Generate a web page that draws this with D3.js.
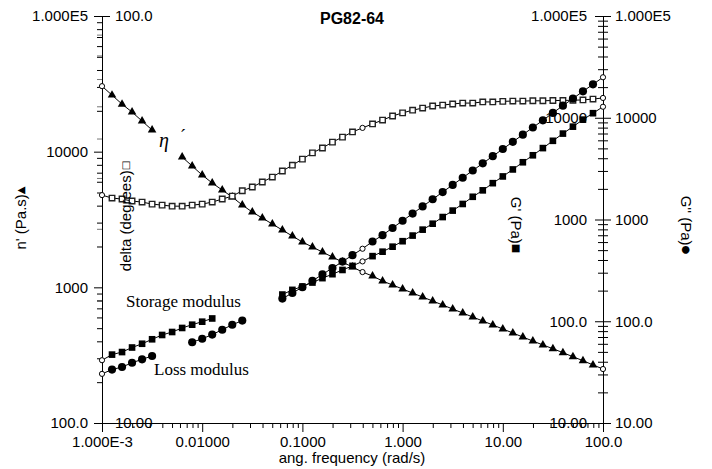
<!DOCTYPE html>
<html><head><meta charset="utf-8">
<script src="https://cdn.jsdelivr.net/npm/d3@7"></script>
<style>body{margin:0;background:#fff}svg{display:block}</style>
</head><body><svg id="c" width="712" height="469"></svg>
<script>
// ---- data ----
const freq = [0.001,0.001259,0.001585,0.001995,0.002512,0.003162,0.003981,0.005012,0.00631,0.007943,
  0.01,0.01259,0.01585,0.01995,0.02512,0.03162,0.03981,0.05012,0.0631,0.07943,
  0.1,0.1259,0.1585,0.1995,0.2512,0.3162,0.3981,0.5012,0.631,0.7943,
  1,1.259,1.585,1.995,2.512,3.162,3.981,5.012,6.31,7.943,
  10,12.59,15.85,19.95,25.12,31.62,39.81,50.12,63.1,79.43,100];
const etaPrime = [30400,26100,22400,19580,16810,14430,null,null,9125,7834,
  6725,5870,5212,4627,4042,3588,3241,2928,2644,2388,
  2157,1982,1820,1672,1536,1411,1296,1211,1113,1040,
  972,908,848,793,741,692,647,604,565,528,
  493,461,430,402,376,353,330,308,288,268,250];
const delta = [36.3,35.7,35.5,35.1,34.9,34.5,34.3,34.1,34.1,34.3,
  34.5,34.9,35.5,36.1,37.2,38.0,39.1,40.2,41.6,43.0,
  44.5,46.1,47.4,49.0,50.4,51.9,53.1,54.3,55.5,56.8,
  57.8,58.7,59.4,60.1,60.4,60.8,61.1,61.1,61.5,61.5,
  61.7,61.8,61.8,61.9,61.9,62.0,62.0,62.1,62.2,62.5,62.9];
const gPrime = [41.4,47.0,49.8,55.2,60.1,66.5,73.3,78.4,85.9,92.5,
  99.0,106.5,null,null,null,null,null,null,183,203.4,
  219.5,240.1,265.3,290.1,319.2,350.0,387.5,436.4,482.5,540.5,
  611.8,695.0,794.8,909.1,1057,1223,1421,1672,1934,2275,
  2650,3104,3652,4277,5032,5934,6987,8175,9580,11083,12830];
const gDouble = [30.4,33.5,35.5,39.1,42.2,45.6,null,null,null,62.2,
  67.3,73.9,82.6,92.3,101.5,null,null,null,166.9,189.7,
  215.7,249.5,288.5,333.7,385.8,446.3,516.1,607.3,702.1,826.0,
  971.6,1143,1344,1581,1860,2188,2574,3028,3562,4191,
  4928,5797,6820,8022,9437,11160,13140,15440,18170,21290,25000];
const specialIdx = [0, 26, 50];

const xTicks = [0.001,0.01,0.1,1,10,100];
const xTickLabels = ["1.000E-3","0.01000","0.1000","1.000","10.00","100.0"];
const etaTicks = [100,1000,10000,100000];
const etaTickLabels = ["100.0","1000","10000","1.000E5"];
const deltaTicks = [10,100];
const deltaTickLabels = ["10.00","100.0"];
const gTicks = [10,100,1000,10000,100000];
const gTickLabels = ["10.00","100.0","1000","10000","1.000E5"];

// ---- drawing ----
const svg = d3.select("#c");
svg.append("rect").attr("width",712).attr("height",469).attr("fill","#fff");
const FONT = "'Liberation Sans', Arial, Helvetica, sans-serif";
const SERIF = "'Liberation Serif', 'Times New Roman', serif";

const x = d3.scaleLog().domain([1e-3,100]).range([102,603]);
const yEta = d3.scaleLog().domain([100,1e5]).range([423,16]);
const yDelta = d3.scaleLog().domain([10,100]).range([423,16]);
const yG = d3.scaleLog().domain([10,1e5]).range([423,16]);

function styleAxis(g, col){
  g.attr("font-family",FONT).attr("font-size",15);
  g.selectAll("text").attr("fill","#000");
  g.selectAll("line,path").attr("stroke",col||"#000").attr("stroke-width",1);
}
function minors(scale, majors){
  return scale.ticks().filter(v => !majors.some(m => Math.abs(m-v)/m < 1e-6));
}
function lab(arr){ return (d,i)=>arr[i]; }

// bottom axis
svg.append("g").attr("transform","translate(0,423)")
  .call(d3.axisBottom(x).tickValues(minors(x,xTicks)).tickFormat("").tickSize(5).tickSizeOuter(0))
  .call(styleAxis);
svg.append("g").attr("transform","translate(0,423)")
  .call(d3.axisBottom(x).tickValues(xTicks).tickFormat(lab(xTickLabels)).tickSize(9).tickPadding(4).tickSizeOuter(0))
  .call(styleAxis);

// left axes (eta' outward, delta inward labels)
svg.append("g").attr("transform","translate(102,0)")
  .call(d3.axisLeft(yDelta).tickValues(minors(yDelta,deltaTicks)).tickFormat("").tickSize(5).tickSizeOuter(0))
  .call(g=>styleAxis(g,"#777"));
svg.append("g").attr("transform","translate(102,0)")
  .call(d3.axisLeft(yEta).tickValues(minors(yEta,etaTicks)).tickFormat("").tickSize(5).tickSizeOuter(0))
  .call(styleAxis);
svg.append("g").attr("transform","translate(102,0)")
  .call(d3.axisLeft(yEta).tickValues(etaTicks).tickFormat(lab(etaTickLabels)).tickSize(8).tickPadding(6).tickSizeOuter(0))
  .call(styleAxis);
svg.append("g").attr("transform","translate(102,0)")
  .call(d3.axisRight(yDelta).tickValues(deltaTicks).tickFormat(lab(deltaTickLabels)).tickSize(8).tickPadding(5).tickSizeOuter(0))
  .call(styleAxis);

// right axes (G' labels left, G'' labels right)
svg.append("g").attr("transform","translate(603,0)")
  .call(d3.axisLeft(yG).tickValues(minors(yG,gTicks)).tickFormat("").tickSize(5).tickSizeOuter(0))
  .call(styleAxis);
svg.append("g").attr("transform","translate(603,0)")
  .call(d3.axisRight(yG).tickValues(minors(yG,gTicks)).tickFormat("").tickSize(5).tickSizeOuter(0))
  .call(styleAxis);
svg.append("g").attr("transform","translate(603,0)")
  .call(d3.axisLeft(yG).tickValues(gTicks).tickFormat(lab(gTickLabels)).tickSize(8).tickPadding(8).tickSizeOuter(0))
  .call(styleAxis);
svg.append("g").attr("transform","translate(603,0)")
  .call(d3.axisRight(yG).tickValues(gTicks).tickFormat(lab(gTickLabels)).tickSize(8).tickPadding(4).tickSizeOuter(0))
  .call(styleAxis);

// series
function drawSeries(vals, scale, kind){
  const g = svg.append("g");
  g.append("path").datum(vals)
    .attr("d", d3.line().defined(d => d != null).x((d,i) => x(freq[i])).y(d => scale(d)))
    .attr("fill","none").attr("stroke","#000").attr("stroke-width",1);
  const pts = vals.map((v,i)=>({v,i})).filter(p => p.v != null);
  const normal = pts.filter(p => !specialIdx.includes(p.i));
  const special = pts.filter(p => specialIdx.includes(p.i));
  let sym, fill = "#000", stroke = "none", sw = 0;
  if (kind === "tri") sym = d3.symbol(d3.symbolTriangle, 32);
  else if (kind === "sq") sym = d3.symbol(d3.symbolSquare, 44);
  else if (kind === "circ") sym = d3.symbol(d3.symbolCircle, 52);
  else { sym = d3.symbol(d3.symbolSquare, 30); fill = "#fff"; stroke = "#222"; sw = 1.4; }
  g.selectAll("path.m").data(normal).join("path").attr("class","m")
    .attr("transform", p => `translate(${x(freq[p.i])},${scale(p.v)})`)
    .attr("d", sym).attr("fill", fill).attr("stroke", stroke).attr("stroke-width", sw);
  g.selectAll("circle.s").data(special).join("circle").attr("class","s")
    .attr("cx", p => x(freq[p.i])).attr("cy", p => scale(p.v)).attr("r", 2.6)
    .attr("fill","#fff").attr("stroke","#000").attr("stroke-width",1);
}
drawSeries(etaPrime, yEta, "tri");
drawSeries(delta, yDelta, "open");
drawSeries(gPrime, yG, "sq");
drawSeries(gDouble, yG, "circ");

// titles
const T = (txt, xx, yy, opts={}) => svg.append("text").attr("x",xx).attr("y",yy)
  .attr("font-family", opts.family || FONT).attr("font-size", opts.size || 15)
  .attr("font-weight", opts.weight || "normal").attr("font-style", opts.style || "normal")
  .attr("text-anchor", opts.anchor || "middle").attr("fill","#000")
  .attr("transform", opts.rot ? `rotate(${opts.rot},${xx},${yy})` : null).text(txt);

T("PG82-64", 352, 24, {weight:"bold", size:16});
T("ang. frequency (rad/s)", 352, 463);

function axisTitle(txt, sym, xx, yy, rot){
  const t = svg.append("text").attr("x",xx).attr("y",yy)
    .attr("font-family",FONT).attr("font-size",15).attr("fill","#000")
    .attr("text-anchor","middle").attr("dominant-baseline","central")
    .attr("transform",`rotate(${rot},${xx},${yy})`);
  t.append("tspan").text(txt);
  t.append("tspan").attr("font-size",10).attr("font-family","'DejaVu Sans', sans-serif").text(sym);
}
axisTitle("n' (Pa.s)", "▲", 20, 218, -90);
axisTitle("delta (degrees)", "□", 125, 216, -90);
axisTitle("G' (Pa)", "■", 517, 225, 90);
axisTitle("G'' (Pa)", "●", 687, 225, 90);

// annotations
T("Storage modulus", 126, 307, {family:SERIF, size:17, anchor:"start"});
T("Loss modulus", 154, 375, {family:SERIF, size:17, anchor:"start"});
T("η", 159, 147, {family:SERIF, size:20, style:"italic", anchor:"start"});
T("´", 180, 142, {family:SERIF, size:18, anchor:"start"});
</script></body></html>
